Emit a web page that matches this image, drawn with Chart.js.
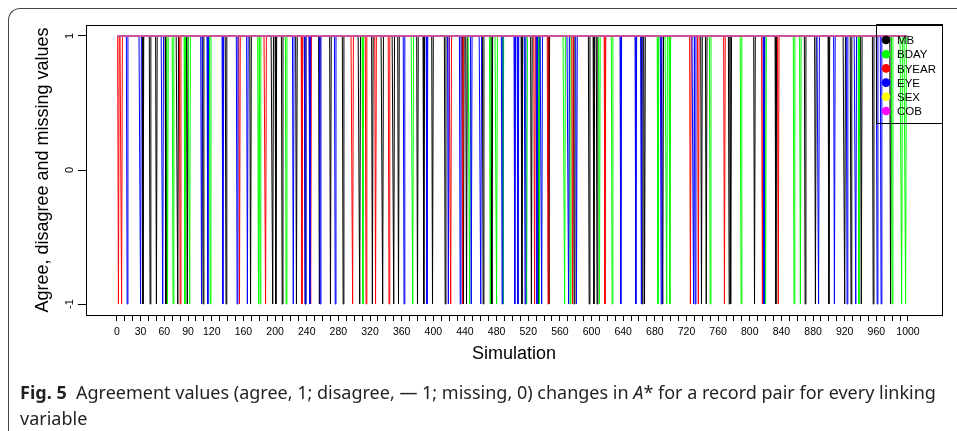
<!DOCTYPE html>
<html><head><meta charset="utf-8">
<script src="https://cdn.jsdelivr.net/npm/chart.js@4.4.1/dist/chart.umd.min.js"></script>
<style>
html,body{margin:0;padding:0;background:#fff;}
#wrap{position:relative;width:957px;height:431px;overflow:hidden;}
#frame{position:absolute;left:8px;top:8px;width:980px;height:500px;border-left:1px solid #444;border-top:1px solid #444;border-top-left-radius:12px;}
canvas{position:absolute;left:0;top:0;}
#cap{position:absolute;left:20px;top:379px;width:932px;font-family:"Noto Sans","Open Sans",sans-serif;font-size:18px;line-height:26px;color:#231f20;}
</style></head><body>
<div id="wrap"><div id="frame"></div><canvas id="c" width="957" height="431"></canvas>
<div id="cap"><b>Fig. 5</b>&nbsp; Agreement values (agree, 1; disagree, — 1; missing, 0) changes in <i>A</i>* for a record pair for every linking variable</div></div>
<script>
// ---- data ----
const seriesNames = ['MB','BDAY','BYEAR','EYE','SEX','COB'];
const simulationCount = 1000;
// simulations at which each variable disagrees (value -1); all others agree (value 1)
const mbDisagree = [33,42,50,62,77,89,109,138,169,197,201,209,227,238,256,270,286,307,323,336,350,356,380,388,399,415,438,442,463,474,512,524,533,546,578,597,603,607,664,667,690,739,745,774,776,806,833,870,883,900,920,928,941,956,978];
const bdayDisagree = [64,71,86,92,118,179,181,214,311,374,446,472,480,488,518,534,566,573,610,626,684,695,699,750,789,820,856,864,938,980,992,997];
const byearDisagree = [2,6,80,155,188,234,245,298,315,327,344,422,437,528,545,576,617,725,735,768,816,836];
const eyeDisagree = [13,30,58,107,115,134,152,165,223,238,244,257,276,363,392,419,434,448,460,487,503,507,516,531,537,571,581,637,656,663,688,729,731,818,887,907,923,934,961,966];
const sexDisagree = [];
const cobDisagree = [];
const xTickValues = [0,10,20,30,40,50,60,70,80,90,100,110,120,130,140,150,160,170,180,190,200,210,220,230,240,250,260,270,280,290,300,310,320,330,340,350,360,370,380,390,400,410,420,430,440,450,460,470,480,490,500,510,520,530,540,550,560,570,580,590,600,610,620,630,640,650,660,670,680,690,700,710,720,730,740,750,760,770,780,790,800,810,820,830,840,850,860,870,880,890,900,910,920,930,940,950,960,970,980,990,1000];
const xTickLabels = [0,30,60,90,120,160,200,240,280,320,360,400,440,480,520,560,600,640,680,720,760,800,840,880,920,960,1000];
const yTickValues = [-1,0,1];

const disagreeLists = [mbDisagree,bdayDisagree,byearDisagree,eyeDisagree,sexDisagree,cobDisagree];
const colors = ['#000000','#00ff00','#ff0000','#0000ff','#ffff00','#ff00ff'];

function buildSeries(list){
  const set = new Set(list);
  const pts = [];
  for(let s=1;s<=simulationCount;s++) pts.push({x:s, y: set.has(s) ? -1 : 1});
  return pts;
}

const datasets = seriesNames.map((n,i)=>({
  label:n, data: buildSeries(disagreeLists[i]), borderColor: colors[i], backgroundColor: colors[i],
  borderWidth:1, pointRadius:0, tension:0, fill:false, order: seriesNames.length - i
}));

const FONT = '"Liberation Sans", Arial, sans-serif';

const boxPlugin = {
  id:'box',
  afterDatasetsDraw(chart){
    const {ctx, chartArea:a} = chart;
    ctx.save();
    ctx.strokeStyle='#000'; ctx.lineWidth=1;
    ctx.strokeRect(Math.round(a.left)+0.5, Math.round(a.top)+0.5, Math.round(a.right-a.left), Math.round(a.bottom-a.top));
    // legend
    const lx=876, ly=24, lw=66, lh=99;
    ctx.strokeRect(lx+0.5, ly+0.5, lw, lh);
    ctx.font='11.5px '+FONT; ctx.textBaseline='middle'; ctx.textAlign='left';
    seriesNames.forEach((n,i)=>{
      const cy = 40 + i*14.2;
      ctx.beginPath(); ctx.arc(886, cy, 4.3, 0, Math.PI*2); ctx.fillStyle=colors[i]; ctx.fill();
      ctx.fillStyle='#000'; ctx.fillText(n, 897, cy+1);
    });
    // rotated y tick labels
    const y = chart.scales.y;
    ctx.font='11px '+FONT; ctx.textAlign='center'; ctx.textBaseline='middle'; ctx.fillStyle='#000';
    yTickValues.forEach(v=>{
      ctx.save(); ctx.translate(70, y.getPixelForValue(v)); ctx.rotate(-Math.PI/2); ctx.fillText(String(v),0,0); ctx.restore();
    });
    ctx.restore();
  }
};

new Chart(document.getElementById('c'), {
  type:'line',
  data:{datasets},
  options:{
    responsive:false, animation:false, events:[],
    layout:{padding:{left:0, top:25, right:15, bottom:66}},
    plugins:{legend:{display:false}, tooltip:{enabled:false}},
    scales:{
      x:{type:'linear', min:-39, max:1043,
        afterBuildTicks(s){ s.ticks = xTickValues.map(v=>({value:v})); },
        afterFit(s){ s.height = 50; },
        grid:{drawOnChartArea:false, drawTicks:true, tickLength:6, color:'#000'},
        border:{display:false},
        ticks:{autoSkip:false, maxRotation:0, minRotation:0, padding:5, color:'#000', font:{family:FONT, size:10.5},
          callback(v){ return xTickLabels.includes(v) ? String(v) : ''; }},
        title:{display:true, text:'Simulation', color:'#000', font:{family:FONT, size:18}, padding:{top:0,bottom:0}}
      },
      y:{type:'linear', min:-1.082, max:1.082,
        afterBuildTicks(s){ s.ticks = yTickValues.map(v=>({value:v})); },
        afterFit(s){ s.width = 86; },
        grid:{drawOnChartArea:false, drawTicks:true, tickLength:8, color:'#000'},
        border:{display:false},
        ticks:{callback(){ return ''; }},
        title:{display:true, text:'Agree, disagree and missing values', color:'#000', font:{family:FONT, size:18}, padding:{top:32,bottom:0}}
      }
    }
  },
  plugins:[boxPlugin]
});
</script>
</body></html>
